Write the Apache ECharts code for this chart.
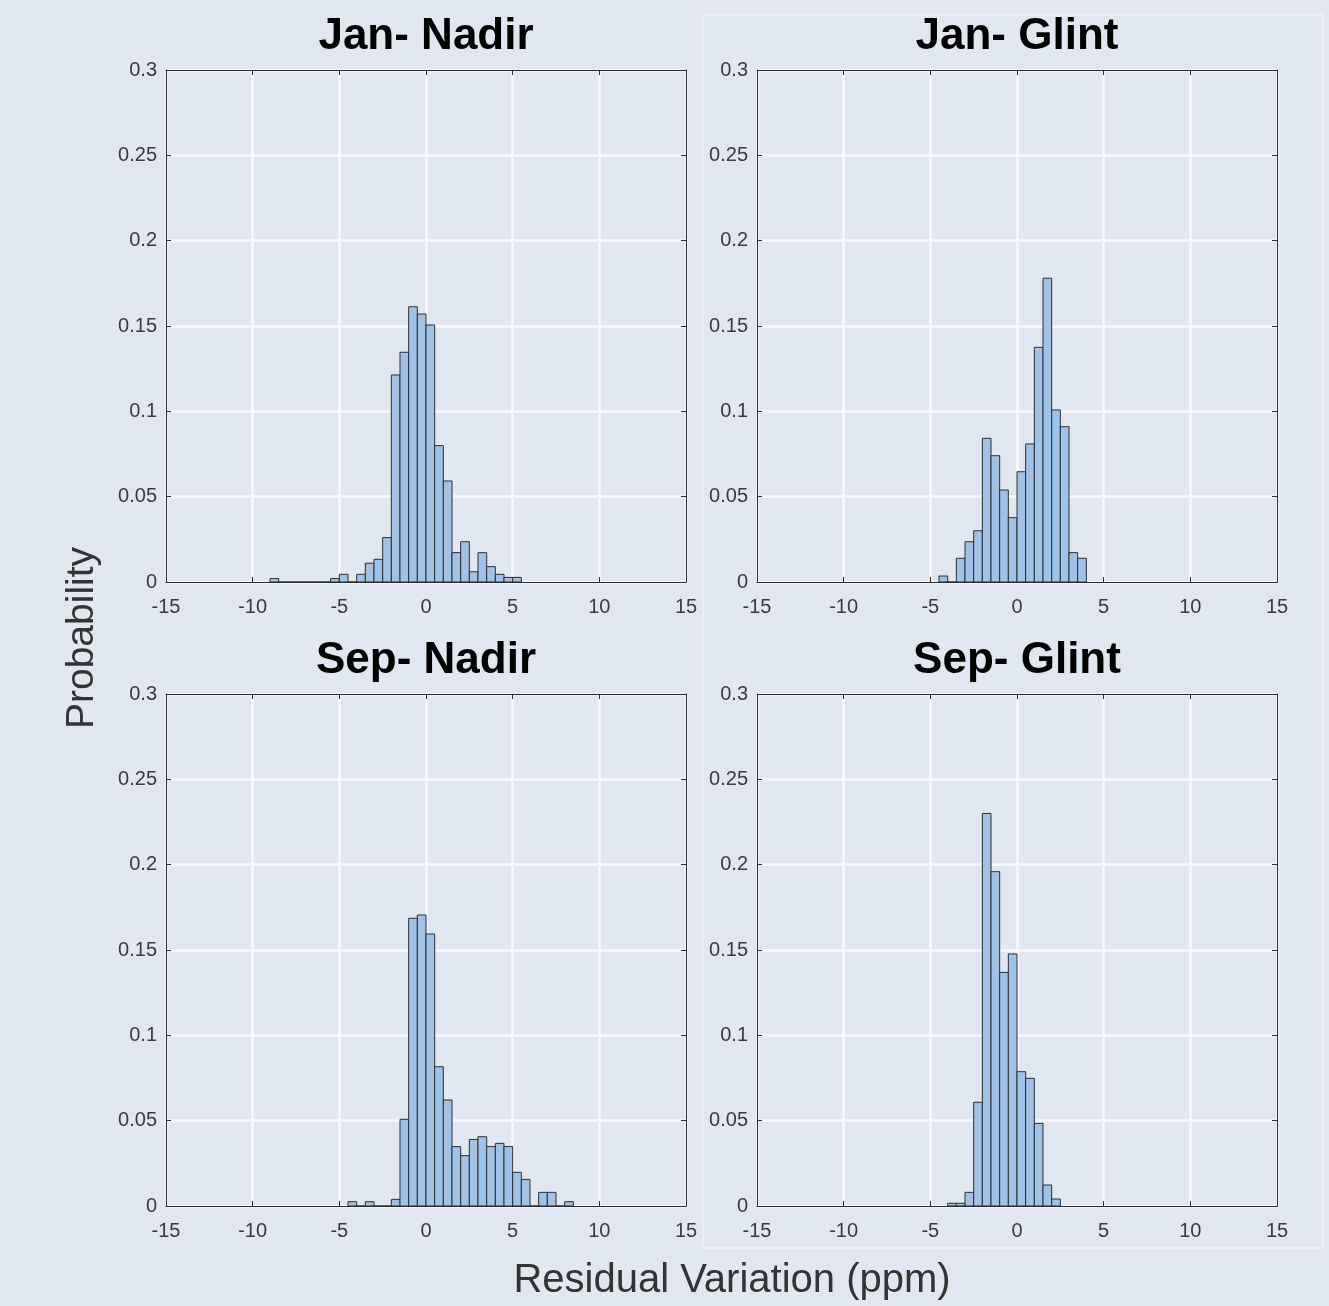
<!DOCTYPE html>
<html>
<head>
<meta charset="utf-8">
<script src="https://cdn.jsdelivr.net/npm/echarts@6/dist/echarts.min.js"></script>
<style>
html,body{margin:0;padding:0;background:#e0e7f0;}
#chart{width:1329px;height:1306px;}
</style>
</head>
<body>
<div id="chart"></div>
<script>
// ---- data (probability per 0.5 ppm bin, bins listed from their start edge) ----
const binWidth = 0.5;
const xTickValues = [-15, -10, -5, 0, 5, 10, 15];
const yTickValues = [0, 0.05, 0.1, 0.15, 0.2, 0.25, 0.3];

const panelTitles = ['Jan- Nadir', 'Jan- Glint', 'Sep- Nadir', 'Sep- Glint'];

const janNadirStart = -9;
const janNadirProb = [0.002, 0, 0, 0, 0, 0, 0, 0.002, 0.0045, 0, 0.0045, 0.011, 0.0133, 0.026,
  0.1213, 0.1346, 0.1613, 0.157, 0.1506, 0.0799, 0.0592, 0.0172, 0.0236, 0.006, 0.0172,
  0.009, 0.0045, 0.0027, 0.0027];

const janGlintStart = -4.5;
const janGlintProb = [0.0035, 0, 0.0139, 0.0236, 0.030, 0.0842, 0.074, 0.0539, 0.0377,
  0.0646, 0.0809, 0.1375, 0.178, 0.1008, 0.091, 0.0172, 0.0139];

const sepNadirStart = -4.5;
const sepNadirProb = [0.0025, 0, 0.0025, 0, 0, 0.0039, 0.0508, 0.1686, 0.1705, 0.1594,
  0.0816, 0.0621, 0.0348, 0.0295, 0.039, 0.0406, 0.0348, 0.0367, 0.0348, 0.0197, 0.0156,
  0, 0.008, 0.008, 0, 0.0025];

const sepGlintStart = -4;
const sepGlintProb = [0.0016, 0.0016, 0.008, 0.0608, 0.230, 0.1959, 0.1369, 0.1477,
  0.0787, 0.0748, 0.0484, 0.0123, 0.0041];

const xName = 'Residual Variation (ppm)';
const yName = 'Probability';

// ---- build ----
const panels = [
  {start: janNadirStart, prob: janNadirProb},
  {start: janGlintStart, prob: janGlintProb},
  {start: sepNadirStart, prob: sepNadirProb},
  {start: sepGlintStart, prob: sepGlintProb}
];
const gridPos = [
  {left: 166, top: 70}, {left: 757, top: 70},
  {left: 166, top: 694}, {left: 757, top: 694}
];
const GW = 520, GH = 512;
const FONT = '"Liberation Sans", Arial, Helvetica, sans-serif';
const axisColor = '#2a2a2a';
const labelColor = '#3a3a3a';

const grids = [], xAxes = [], yAxes = [], series = [], graphics = [];

function renderItem(params, api) {
  const x0 = api.value(0), x1 = api.value(1), y = api.value(2);
  const p0 = api.coord([x0, y]);
  const p1 = api.coord([x1, 0]);
  return {
    type: 'rect',
    shape: {x: p0[0], y: p0[1], width: p1[0] - p0[0], height: p1[1] - p0[1]},
    style: {fill: '#a0c2e6', stroke: '#2e2e2e', lineWidth: 1}
  };
}

panels.forEach((p, i) => {
  grids.push({left: gridPos[i].left, top: gridPos[i].top, width: GW, height: GH, containLabel: false});
  const common = {
    gridIndex: i, type: 'value',
    axisLine: {show: true, onZero: false, lineStyle: {color: axisColor, width: 1}},
    axisTick: {show: true, inside: true, length: 5, lineStyle: {color: axisColor}},
  };
  xAxes.push(Object.assign({}, common, {
    position: 'bottom', min: -15, max: 15, interval: 5,
    axisLabel: {show: true, fontSize: 20, fontFamily: FONT, color: labelColor, margin: 15},
    splitLine: {show: true, lineStyle: {color: '#f8f9fa', width: 2.5}}
  }));
  xAxes.push(Object.assign({}, common, {
    position: 'top', min: -15, max: 15, interval: 5,
    axisLabel: {show: false}, splitLine: {show: false}
  }));
  yAxes.push(Object.assign({}, common, {
    position: 'left', min: 0, max: 0.3, interval: 0.05,
    axisLabel: {show: true, fontSize: 20, fontFamily: FONT, color: labelColor, margin: 9},
    splitLine: {show: true, lineStyle: {color: '#f8f9fa', width: 2.5}}
  }));
  yAxes.push(Object.assign({}, common, {
    position: 'right', min: 0, max: 0.3, interval: 0.05,
    axisLabel: {show: false}, splitLine: {show: false}
  }));
  const data = p.prob.map((v, k) => [p.start + k * binWidth, p.start + (k + 1) * binWidth, v]);
  series.push({
    type: 'custom', xAxisIndex: i * 2, yAxisIndex: i * 2,
    renderItem: renderItem, encode: {x: [0, 1], y: 2}, data: data, clip: true, z: 3
  });
  graphics.push({
    type: 'text', x: gridPos[i].left + GW / 2, y: gridPos[i].top - 33, z: 10,
    style: {text: panelTitles[i], font: 'bold 44px ' + FONT, fill: '#000', align: 'center', verticalAlign: 'middle'}
  });
});

graphics.push({
  type: 'rect', z: -1, silent: true,
  shape: {x: 703, y: 15, width: 620, height: 1233},
  style: {fill: 'none', stroke: '#edf1f7', lineWidth: 1.5}
});
graphics.push({
  type: 'text', x: 732, y: 1281, z: 10,
  style: {text: xName, font: '40px ' + FONT, fill: '#333', align: 'center', verticalAlign: 'middle'}
});
graphics.push({
  type: 'text', x: 82, y: 638, rotation: Math.PI / 2, z: 10,
  style: {text: yName, font: '39px ' + FONT, fill: '#333', align: 'center', verticalAlign: 'middle'}
});

const chart = echarts.init(document.getElementById('chart'), null, {renderer: 'canvas'});
chart.setOption({
  backgroundColor: '#e0e7f0',
  animation: false,
  grid: grids, xAxis: xAxes, yAxis: yAxes, series: series, graphic: graphics
});
</script>
</body>
</html>
